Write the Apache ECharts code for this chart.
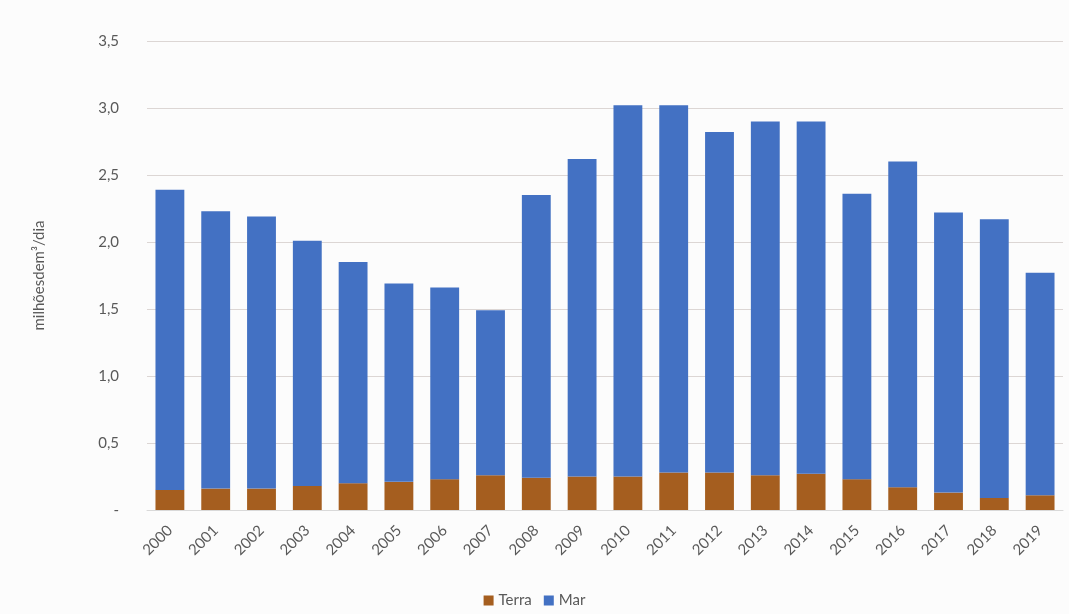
<!DOCTYPE html>
<html>
<head>
<meta charset="utf-8">
<script src="https://cdn.jsdelivr.net/npm/echarts@6/dist/echarts.min.js"></script>
<style>
html,body{margin:0;padding:0;background:#fcfcfc;}
#chart{width:1069px;height:614px;}
</style>
</head>
<body>
<div id="chart"></div>
<script>
const years = ['2000','2001','2002','2003','2004','2005','2006','2007','2008','2009','2010','2011','2012','2013','2014','2015','2016','2017','2018','2019'];
const terra = [0.15,0.16,0.16,0.18,0.20,0.21,0.23,0.26,0.24,0.25,0.25,0.28,0.28,0.26,0.27,0.23,0.17,0.13,0.09,0.11];
const mar = [2.24,2.07,2.03,1.83,1.65,1.48,1.43,1.23,2.11,2.37,2.77,2.74,2.54,2.64,2.63,2.13,2.43,2.09,2.08,1.66];
const yTicks = {min:0, max:3.5, interval:0.5};
const seriesNames = ['Terra','Mar'];

const chart = echarts.init(document.getElementById('chart'));
const font = 'Lato, "Open Sans", sans-serif';
chart.setOption({
  backgroundColor:'#fcfcfc',
  animation:false,
  textStyle:{fontFamily:font},
  grid:{left:147,right:6,top:41,bottom:104,containLabel:false},
  legend:{
    data:seriesNames,
    bottom:1,
    left:'center',
    itemWidth:10,itemHeight:10,itemGap:12,
    icon:'rect',
    textStyle:{color:'#595959',fontSize:15,fontFamily:font}
  },
  xAxis:{
    type:'category',
    data:years,
    axisTick:{show:false},
    axisLine:{lineStyle:{color:'#d9d9d9'}},
    axisLabel:{rotate:45,color:'#595959',fontSize:15,margin:18,fontFamily:font}
  },
  yAxis:{
    type:'value',
    min:yTicks.min,max:yTicks.max,interval:yTicks.interval,
    name:'milhõesdem³/dia',
    nameLocation:'middle',
    nameGap:100,
    nameRotate:90,
    nameTextStyle:{color:'#595959',fontSize:15,fontFamily:font},
    axisLine:{show:false},
    axisTick:{show:false},
    splitLine:{lineStyle:{color:'#dcd6d4',width:1}},
    axisLabel:{
      color:'#595959',fontSize:15,margin:28,fontFamily:font,
      formatter:function(v){ return v===0 ? '-' : v.toFixed(1).replace('.',','); }
    }
  },
  series:[
    {name:'Terra',type:'bar',stack:'t',data:terra,barCategoryGap:'37%',itemStyle:{color:'#a55e1f'}},
    {name:'Mar',type:'bar',stack:'t',data:mar,barCategoryGap:'37%',itemStyle:{color:'#4371c3'}}
  ]
});
</script>
</body>
</html>
